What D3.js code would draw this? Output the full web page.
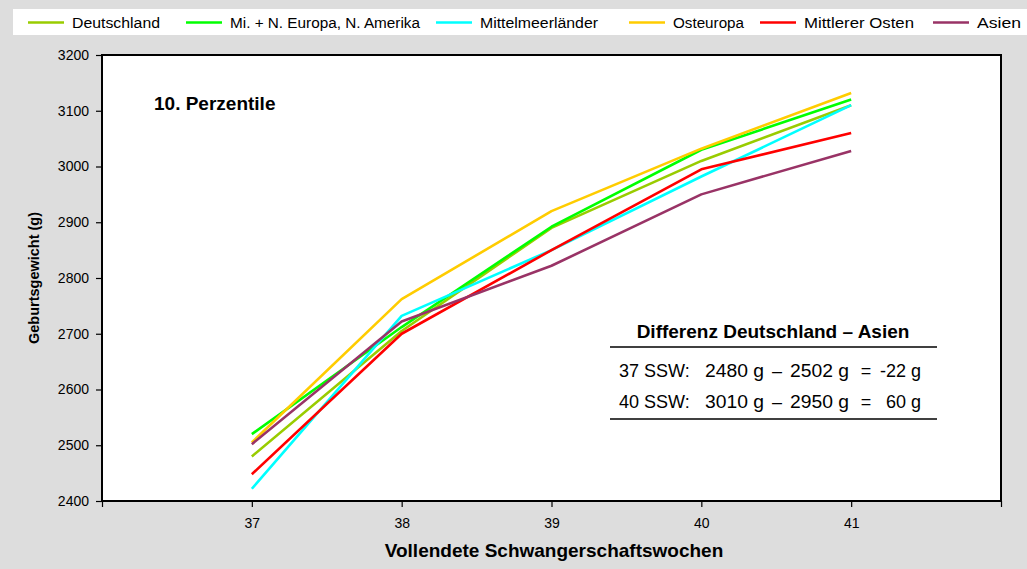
<!DOCTYPE html>
<html>
<head>
<meta charset="utf-8">
<script src="https://cdn.jsdelivr.net/npm/d3@7"></script>
<style>
  html, body { margin: 0; padding: 0; background: #dddddd; }
  svg { display: block; font-family: "Liberation Sans", Arial, sans-serif; }
</style>
</head>
<body>
<svg id="chart" width="1027" height="569"></svg>
<script>
// Gestational weeks (x) and 10th-percentile birth weights (g) per origin group
const weeks = [37, 38, 39, 40, 41];
const seriesNames = ["Deutschland", "Mi. + N. Europa, N. Amerika", "Mittelmeerländer", "Osteuropa", "Mittlerer Osten", "Asien"];
const seriesColors = ["#99cc00", "#00ff00", "#00ffff", "#ffcc00", "#ff0000", "#993366"];
const deutschland   = [2480, 2705, 2890, 3010, 3110];
const miNEuropa     = [2520, 2712, 2892, 3030, 3120];
const mittelmeer    = [2422, 2732, 2850, 2982, 3110];
const osteuropa     = [2505, 2762, 2920, 3032, 3132];
const mittlererOst  = [2448, 2700, 2850, 2995, 3060];
const asien         = [2502, 2722, 2822, 2950, 3028];
const seriesValues = [deutschland, miNEuropa, mittelmeer, osteuropa, mittlererOst, asien];
const yTicks = [2400, 2500, 2600, 2700, 2800, 2900, 3000, 3100, 3200];
const xTickBounds = [36, 37, 38, 39, 40, 41, 42];

const svg = d3.select("#chart");

// plot frame
const plotL = 102, plotR = 1001, plotT = 55, plotB = 501;
const x = d3.scaleLinear().domain([36, 42]).range([plotL, plotR]);
const y = d3.scaleLinear().domain([2400, 3200]).range([plotB, plotT]);

svg.append("rect").attr("x", 0).attr("y", 0).attr("width", 1027).attr("height", 569).attr("fill", "#dddddd");

// legend strip
svg.append("rect").attr("x", 13).attr("y", 9).attr("width", 1014).attr("height", 26).attr("fill", "#ffffff");
const legendX = [28, 186, 436, 629, 760, 933];
const legendTextW = [88, 190, 118, 71, 110, 44];
seriesNames.forEach((name, i) => {
  const g = svg.append("g").attr("transform", `translate(${legendX[i]},22.5)`);
  g.append("line").attr("x1", 0).attr("x2", 36).attr("y1", 0).attr("y2", 0)
    .attr("stroke", seriesColors[i]).attr("stroke-width", 2.5);
  g.append("text").attr("x", 44).attr("y", 5).attr("font-size", 14).attr("fill", "#000")
    .attr("textLength", legendTextW[i]).attr("lengthAdjust", "spacingAndGlyphs")
    .text(name);
});

// plot background
svg.append("rect").attr("x", plotL).attr("y", plotT).attr("width", plotR - plotL).attr("height", plotB - plotT)
  .attr("fill", "#ffffff");

// y axis
const yAxis = d3.axisLeft(y).tickValues(yTicks).tickSize(6).tickSizeOuter(0).tickFormat(d3.format("d"));
const yg = svg.append("g").attr("transform", `translate(${plotL},0)`).call(yAxis);
yg.select(".domain").remove();
yg.selectAll(".tick line").attr("stroke", "#000").attr("stroke-width", 1.2);
yg.selectAll(".tick text").attr("font-size", 14).attr("font-family", "Liberation Sans, Arial, sans-serif")
  .attr("fill", "#000").attr("x", -13);

// x axis: ticks at category bounds, labels at the data weeks
const xAxis = d3.axisBottom(x).tickValues(xTickBounds).tickSize(6).tickSizeOuter(0)
  .tickFormat(d => weeks.includes(d) ? String(d) : "");
const xg = svg.append("g").attr("transform", `translate(0,${plotB})`).call(xAxis);
xg.select(".domain").remove();
xg.selectAll(".tick line").attr("stroke", "#000").attr("stroke-width", 1.2);
xg.selectAll(".tick text").attr("font-size", 14).attr("font-family", "Liberation Sans, Arial, sans-serif")
  .attr("fill", "#000").attr("y", 17);

// series lines
const line = d3.line().x((d, i) => x(weeks[i])).y(d => y(d));
seriesValues.forEach((vals, i) => {
  svg.append("path").datum(vals).attr("d", line).attr("fill", "none")
    .attr("stroke", seriesColors[i]).attr("stroke-width", 2.6).attr("stroke-linejoin", "round");
});

// frame border
svg.append("rect").attr("x", plotL).attr("y", plotT).attr("width", plotR - plotL).attr("height", plotB - plotT)
  .attr("fill", "none").attr("stroke", "#000").attr("stroke-width", 2);

// axis titles
svg.append("text").attr("transform", `translate(39,${(plotT + plotB) / 2}) rotate(-90)`)
  .attr("text-anchor", "middle").attr("font-size", 14.5).attr("font-weight", "bold")
  .text("Geburtsgewicht (g)");
svg.append("text").attr("x", 554).attr("y", 557).attr("text-anchor", "middle")
  .attr("font-size", 19).attr("font-weight", "bold").text("Vollendete Schwangerschaftswochen");

// panel title
svg.append("text").attr("x", 154).attr("y", 110).attr("font-size", 19).attr("font-weight", "bold")
  .text("10. Perzentile");

// difference box
const boxL = 610, boxR = 937;
svg.append("text").attr("x", 773).attr("y", 338).attr("text-anchor", "middle")
  .attr("font-size", 19).attr("font-weight", "bold").text("Differenz Deutschland – Asien");
svg.append("line").attr("x1", boxL).attr("x2", boxR).attr("y1", 347).attr("y2", 347)
  .attr("stroke", "#000").attr("stroke-width", 1.3);
const rows = [
  { week: 37, de: deutschland[0], as: asien[0] },
  { week: 40, de: deutschland[3], as: asien[3] }
];
const rowY = [377, 408];
rows.forEach((r, i) => {
  const t = (xPos, anchor, s) => svg.append("text").attr("x", xPos).attr("y", rowY[i])
    .attr("font-size", 18).attr("text-anchor", anchor).text(s);
  t(619, "start", `${r.week} SSW:`);
  t(705, "start", `${r.de} g`).attr("textLength", 59).attr("lengthAdjust", "spacingAndGlyphs");
  t(777, "middle", "–");
  t(790, "start", `${r.as} g`).attr("textLength", 59).attr("lengthAdjust", "spacingAndGlyphs");
  t(866, "middle", "=");
  t(921, "end", `${r.de - r.as} g`);
});
svg.append("line").attr("x1", boxL).attr("x2", boxR).attr("y1", 419).attr("y2", 419)
  .attr("stroke", "#000").attr("stroke-width", 1.3);
</script>
</body>
</html>
